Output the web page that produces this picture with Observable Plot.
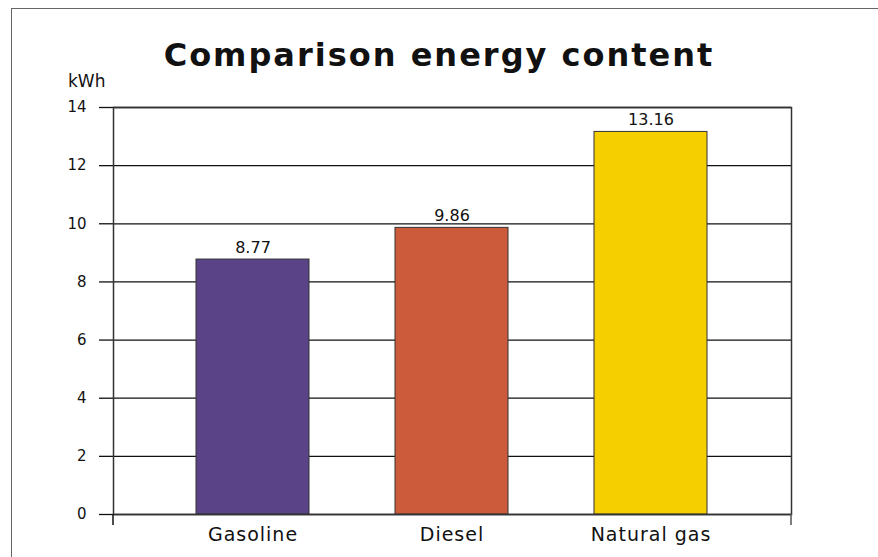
<!DOCTYPE html>
<html>
<head>
<meta charset="utf-8">
<script src="https://cdn.jsdelivr.net/npm/d3@7"></script>
<script src="https://cdn.jsdelivr.net/npm/@observablehq/plot@0.6"></script>
<style>
  html, body { margin: 0; padding: 0; background: #fff; }
  #wrap { position: relative; width: 878px; height: 557px; overflow: hidden; font-family: "DejaVu Sans", sans-serif; }
  #frame { position: absolute; left: 11px; top: 8px; width: 900px; height: 600px; border-left: 1.5px solid #666; border-top: 1.5px solid #666; box-sizing: border-box; }
  #title { position: absolute; left: 0; width: 878px; top: 39px; text-align: center; font-size: 32px; font-weight: 700; letter-spacing: 2px; color: #111; line-height: 1; }
  #unit { position: absolute; left: 68px; top: 73px; font-size: 17px; color: #111; line-height: 1; }
  #chart { position: absolute; left: 0; top: 0; }
  #chart svg g[aria-label="y-axis tick label"] text { font-size: 15px; }
  #chart svg g[aria-label="x-axis tick label"] text { font-size: 19px; letter-spacing: 1px; }
  #chart svg g[aria-label="text"] text { font-size: 16px; }
</style>
</head>
<body>
<div id="wrap">
  <div id="frame"></div>
  <div id="title">Comparison energy content</div>
  <div id="unit">kWh</div>
  <div id="chart"></div>
</div>
<script>
const categories = ["Gasoline", "Diesel", "Natural gas"];
const values = [8.77, 9.86, 13.16];
const colors = ["#5a4487", "#cc5b3c", "#f5cf00"];
const yTicks = [0, 2, 4, 6, 8, 10, 12, 14];
const labels = ["8.77", "9.86", "13.16"];

const data = categories.map((c, i) => ({category: c, value: values[i], color: colors[i], label: labels[i]}));

const plot = Plot.plot({
  width: 878,
  height: 557,
  marginTop: 107,
  marginBottom: 43,
  marginLeft: 113,
  marginRight: 87,
  style: {fontFamily: "'DejaVu Sans', sans-serif", fontSize: "16px", color: "#111", background: "transparent"},
  x: {domain: categories, paddingInner: 0.43, paddingOuter: 0.414, label: null},
  y: {domain: [0, 14], label: null},
  marks: [
    Plot.ruleY(yTicks, {stroke: "#111", strokeWidth: 1.3}),
    Plot.axisY({ticks: yTicks, tickSize: 14, tickPadding: 13, fontSize: 15, stroke: "#111", strokeWidth: 1.3, label: null}),
    Plot.axisX({tickSize: 0, tickPadding: 13, fontSize: 19, label: null}),
    Plot.barY(data, {x: "category", y: "value", fill: "color", stroke: "#333", strokeWidth: 1}),
    Plot.text(data, {x: "category", y: "value", text: "label", dy: -12, fontSize: 16, fill: "#111"}),
    Plot.frame({stroke: "#333", strokeWidth: 1.5})
  ]
});

document.getElementById("chart").appendChild(plot);

// extend the vertical frame edges below the baseline, as in the original
const xs = plot.scale("x");
const ys = plot.scale("y");
const svg = d3.select(plot);
const y0 = ys.range[0];
[xs.range[0], xs.range[1]].forEach(x => {
  svg.append("line")
    .attr("x1", x).attr("x2", x)
    .attr("y1", y0).attr("y2", y0 + 11)
    .attr("stroke", x === xs.range[0] ? "#111" : "#555")
    .attr("stroke-width", 1.5);
});
</script>
</body>
</html>
